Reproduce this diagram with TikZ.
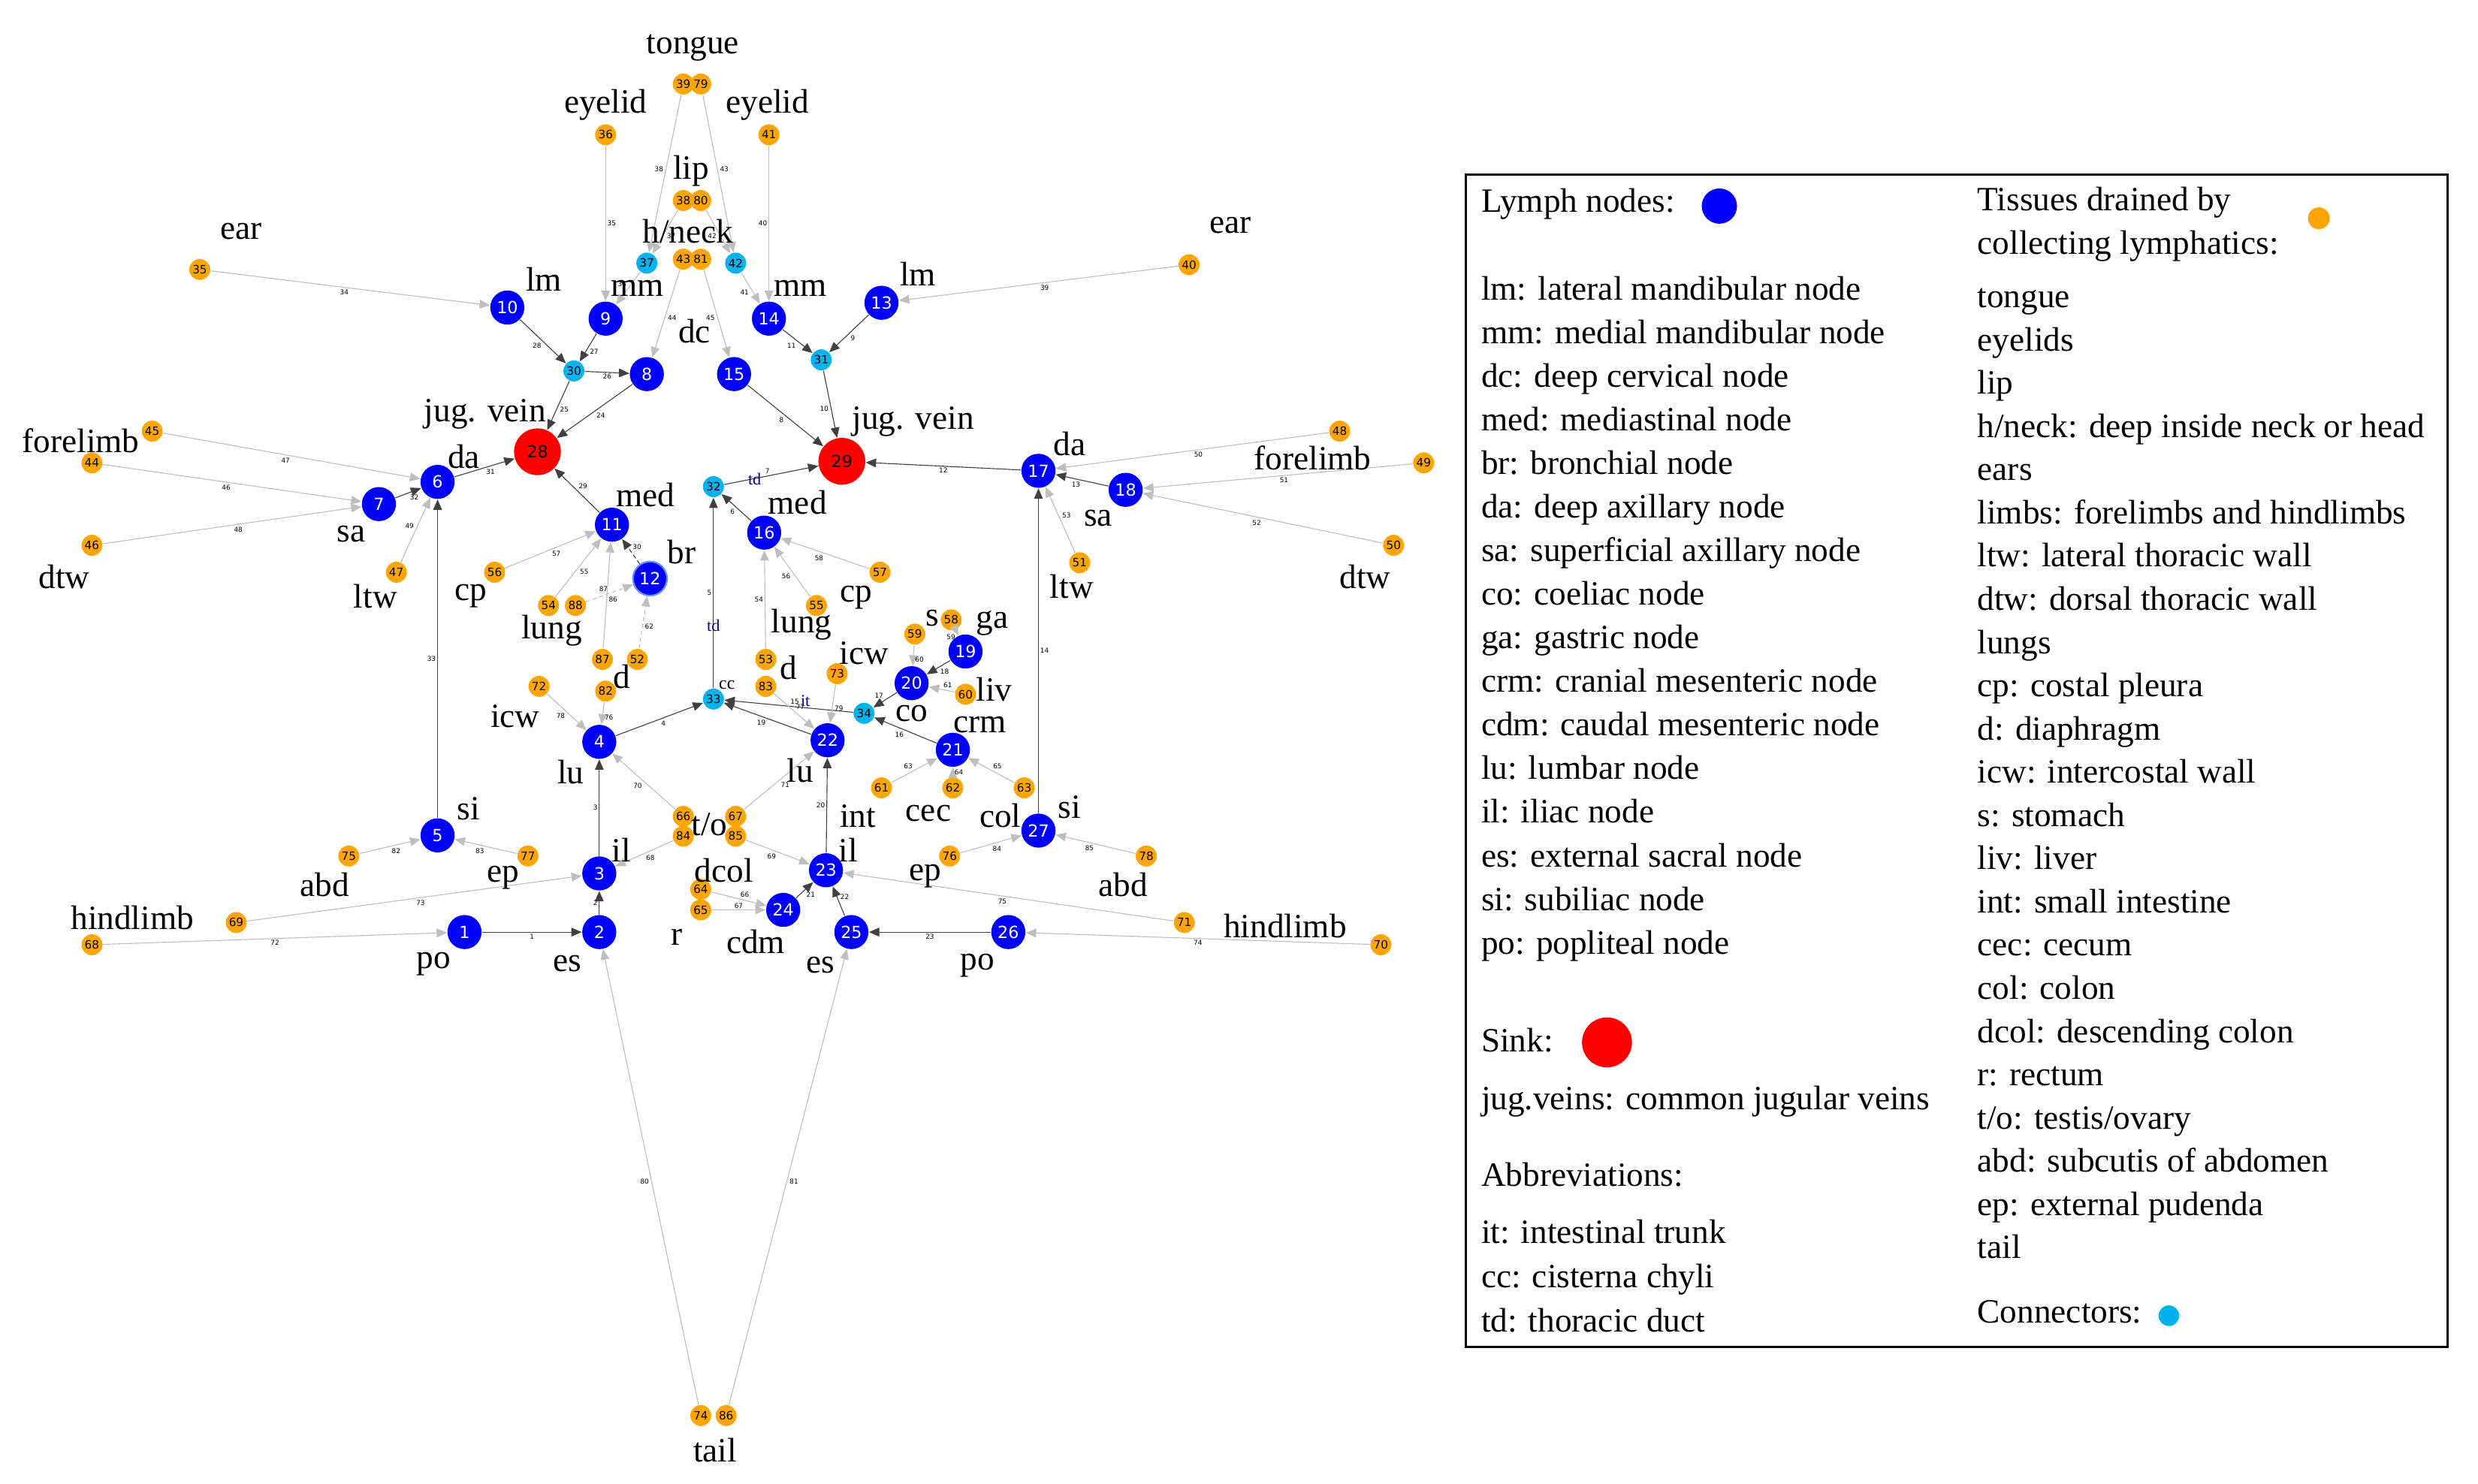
\documentclass[tikz,border=0pt]{standalone}
\usepackage{fontspec}
\setmainfont{Liberation Serif}
\newfontfamily\numfont{DejaVu Sans}
\usetikzlibrary{arrows.meta}

\definecolor{lymphblue}{RGB}{0,0,255}
\definecolor{sinkred}{RGB}{255,0,0}
\definecolor{tissueorange}{RGB}{255,165,0}
\definecolor{conncyan}{RGB}{0,178,238}
\definecolor{ringblue}{RGB}{100,149,237}
\definecolor{darkedge}{RGB}{64,64,64}
\definecolor{lightedge}{RGB}{190,190,190}
\definecolor{ductblue}{RGB}{0,0,139}

\tikzset{lymph/.style = {circle, fill=lymphblue, minimum size=4.3mm, inner sep=0pt,
                         text=white, font=\numfont\fontsize{6}{6}\selectfont},
         sink/.style = {circle, fill=sinkred, minimum size=5.9mm, inner sep=0pt,
                        font=\numfont\fontsize{6}{6}\selectfont},
         tissue/.style = {circle, fill=tissueorange, minimum size=2.65mm, inner sep=0pt,
                          font=\numfont\fontsize{4.1}{4.1}\selectfont},
         conn/.style = {tissue, fill=conncyan},
         organ/.style = {font=\fontsize{12.2}{15}\selectfont, inner sep=0pt, yshift=-0.4mm},
         legtext/.style = {organ, anchor=west, text height=0.68em, text depth=0.22em},
         dk/.style = {draw=darkedge, line width=0.3pt,
                      -{Triangle[length=1.3mm, width=1.1mm]}},
         lt/.style = {dk, draw=lightedge},
         elbl/.style = {font=\numfont\fontsize{2.4}{2.4}\selectfont, inner sep=0.5pt},
         lbL/.style = {elbl, auto=left},
         lbR/.style = {elbl, auto=right},
         duct/.style = {font=\fontsize{6}{6}\selectfont, inner sep=0pt, text=ductblue}
        }

\begin{document}
\begin{tikzpicture}[x=0.2mm, y=-0.2mm]
  \useasboundingbox (0,0) rectangle (1563,936);

  % lymph nodes
  \foreach \n/\x/\y in {1/293/588, 2/378/588, 3/378/551, 4/378/468, 5/276/527,
                        6/276/304, 7/239/318, 8/408/236, 9/382/201, 10/320/194,
                        11/386/331, 13/556/191, 14/485/201, 15/463/236,
                        16/482/336, 17/655/297, 18/710/309, 19/609/411, 20/575/431,
                        21/601/473, 22/522/467, 23/521/549, 24/494/574, 25/537/588,
                        26/636/588, 27/655/524}
    \node[lymph] (n\n) at (\x,\y) {\n};
  \node[lymph, draw=ringblue, line width=0.6pt] (n12) at (410,365) {12};

  % sinks and connectors
  \node[sink] (n28) at (339,285) {28};
  \node[sink] (n29) at (531,291) {29};
  \foreach \n/\x/\y in {30/362/234, 31/518/227, 32/450/307, 33/450/441,
                        34/545/450, 37/408/166, 42/464/166}
    \node[conn] (n\n) at (\x,\y) {\n};

  % tissues
  \foreach \n/\x/\y in {35/126/170, 36/382/85, 38/431/126.5, 80/442/126.5,
                        39/431/53, 79/442/53, 40/750/167, 41/485/85,
                        43/431/163.5, 81/442/163.5, 44/58/292, 45/96/272,
                        46/58/344, 47/250/361, 48/845/272, 49/898/292, 50/879/344,
                        51/681/355, 52/402/416, 53/483/416, 54/346/382, 55/515/382,
                        56/312/361, 57/555/361, 58/600/391, 59/577/400, 60/609/438,
                        61/556/497, 62/601/497, 63/646/497, 64/442/561, 65/442/574,
                        66/431/515, 84/431/527.5, 67/464/515, 85/464/527.5,
                        68/58/596, 69/149/582, 70/871/596, 71/747/582, 72/340/433,
                        73/528/425, 74/442/893, 86/458/893, 75/220/540, 76/599/540,
                        77/333/540, 78/723/540, 82/382/436, 83/483/433,
                        87/380/416, 88/363/382}
    \node[tissue] (n\n) at (\x,\y) {\n};

  % node to node
  \foreach \a/\b/\l/\s in {1/2/1/lbR, 2/3/2/lbL, 3/4/3/lbL, 4/33/4/lbR, 33/32/5/lbL,
                           16/32/6/lbL, 32/29/7/lbL, 15/29/8/lbR, 13/31/9/lbL,
                           31/29/10/lbR, 14/31/11/lbR, 17/29/12/lbL, 18/17/13/lbL,
                           27/17/14/lbR, 34/33/15/lbR, 21/34/16/lbL, 20/34/17/lbR,
                           19/20/18/lbL, 22/33/19/lbL, 23/22/20/lbL, 24/23/21/lbR,
                           25/23/22/lbR, 26/25/23/lbL, 8/28/24/lbL, 30/28/25/lbL,
                           30/8/26/lbR, 9/30/27/lbL, 10/30/28/lbR, 11/28/29/lbR,
                           6/28/31/lbR, 7/6/32/lbR, 5/6/33/lbL}
    \draw[dk] (n\a) -- node[\s] {\l} (n\b);
  \draw[dk, dash pattern=on 1.5pt off 1pt] (n12) -- node[lbR] {30} (n11);

  % tissue to node
  \foreach \a/\b/\l/\s in {35/10/34/lbR, 36/9/35/lbL, 37/9/36/lbR, 38/37/37/lbL,
                           39/37/38/lbR, 40/13/39/lbL, 41/14/40/lbR, 42/14/41/lbR,
                           80/42/42/lbR, 79/42/43/lbL, 43/8/44/lbL, 81/15/45/lbR,
                           44/7/46/lbR, 45/6/47/lbR, 46/7/48/lbR, 47/6/49/lbL,
                           48/17/50/lbL, 49/18/51/lbL, 50/18/52/lbL, 51/17/53/lbR,
                           53/16/54/lbL, 54/11/55/lbR, 55/16/56/lbL, 56/11/57/lbR,
                           57/16/58/lbL, 58/19/59/lbR, 59/20/60/lbL, 60/20/61/lbR,
                           61/21/63/lbL, 62/21/64/lbR, 63/21/65/lbR, 64/24/66/lbL,
                           65/24/67/lbL, 84/3/68/lbL, 85/23/69/lbR, 66/4/70/lbL,
                           67/22/71/lbR, 68/1/72/lbR, 69/3/73/lbR, 70/26/74/lbL,
                           71/23/75/lbL, 82/4/76/lbL, 83/22/77/lbL, 72/4/78/lbR,
                           73/22/79/lbL, 74/2/80/lbL, 86/25/81/lbR, 75/5/82/lbR,
                           77/5/83/lbL, 76/27/84/lbR, 78/27/85/lbL, 87/11/86/lbR}
    \draw[lt] (n\a) -- node[\s] {\l} (n\b);
  \draw[lt, dash pattern=on 1.5pt off 1pt] (n52) -- node[lbR] {62} (n12);
  \draw[lt, dash pattern=on 1.5pt off 1pt] (n88) -- node[lbL] {87} (n12);

  % duct names
  \node[duct] (tdtop) at (476,302) {td};
  \node[duct] (tdmid) at (450,394.5) {td};
  \node[duct] (itrunk) at (508,442) {it};
  \node[organ, font=\fontsize{6.4}{6.4}\selectfont, yshift=0.4mm] (cclbl) at (458.5,432) {cc};

  % organ and node names
  \foreach \t/\x/\y [count=\i] in {tongue/437/28, eyelid/382/64, eyelid/484/64,
                       lip/436/106, {h/neck}/434/144, ear/152/144, ear/776/140,
                       lm/343/174, lm/579/171, mm/402/180, mm/505/180, dc/438/207,
                       {jug. vein}/306/259, {jug. vein}/576/264, forelimb/51/276,
                       forelimb/828/287, da/292.5/286, da/674.6/278, sa/221.6/335,
                       sa/692.6/325, dtw/40.6/362, dtw/861/362, ltw/236.8/374,
                       ltw/676/368, cp/297/374, cp/540/375, med/407/310, med/503/315,
                       br/430/346, lung/348/396, lung/505.6/392, d/392/425,
                       d/497.6/419, icw/325/450, icw/545/410, s/588/388, ga/626/391,
                       liv/627/433, co/575/448, crm/618/455, lu/360/485,
                       lu/504.6/484, si/295.4/508, si/674.6/507, {t/o}/447.5/518,
                       int/541/513, il/392/534, il/535/534, cec/585.6/511,
                       col/631/512.6, abd/204.7/556, abd/708.4/556, ep/317.3/551.5,
                       ep/583.8/550.6, dcol/456.6/547, hindlimb/83.5/577,
                       hindlimb/810.6/582, r/427/589, cdm/476.6/592, po/273.4/606,
                       po/616.5/607, es/358/606, es/517.3/607, tail/451/913}
    \node[organ] (lab\i) at (\x,\y) {\t};

  % legend
  \draw[line width=0.8pt] (924.5,110) rectangle (1544,849.6);
  \node[legtext] (kblue) at (934,128) {Lymph nodes:};
  \node[lymph, minimum size=4.45mm] (kbluedot) at (1084.5,130) {};
  \foreach \t [count=\i from 0] in {lm: lateral mandibular node,
                       mm: medial mandibular node, dc: deep cervical node,
                       med: mediastinal node, br: bronchial node,
                       da: deep axillary node, sa: superficial axillary node,
                       co: coeliac node, ga: gastric node,
                       crm: cranial mesenteric node, cdm: caudal mesenteric node,
                       lu: lumbar node, il: iliac node, es: external sacral node,
                       si: subiliac node, po: popliteal node}
    \node[legtext] (kl\i) at (934,183.2+27.5*\i) {\t};
  \node[legtext] (ksink) at (934,657.6) {Sink:};
  \node[sink, minimum size=6.3mm] (ksinkdot) at (1013.6,657.6) {};
  \node[legtext] (kjug) at (934,694.1) {jug.veins: common jugular veins};
  \node[legtext] (kabbr) at (934,742.4) {Abbreviations:};
  \node[legtext] (kit) at (934,778.5) {it: intestinal trunk};
  \node[legtext] (kcc) at (934,806.1) {cc: cisterna chyli};
  \node[legtext] (ktd) at (934,834.3) {td: thoracic duct};

  \node[legtext] (ktis) at (1247,126.8) {Tissues drained by};
  \node[legtext] (ktis2) at (1247,154.2) {collecting lymphatics:};
  \node[tissue, minimum size=2.75mm] (ktisdot) at (1462.6,137.7) {};
  \foreach \t [count=\i from 0] in {tongue, eyelids, lip,
                       h/neck: deep inside neck or head, ears,
                       limbs: forelimbs and hindlimbs, ltw: lateral thoracic wall,
                       dtw: dorsal thoracic wall, lungs, cp: costal pleura,
                       d: diaphragm, icw: intercostal wall, s: stomach, liv: liver,
                       int: small intestine, cec: cecum, col: colon,
                       dcol: descending colon, r: rectum, t/o: testis/ovary,
                       abd: subcutis of abdomen, ep: external pudenda, tail}
    \node[legtext] (kr\i) at (1247,188+27.27*\i) {\t};
  \node[legtext] (kconn) at (1247,828.4) {Connectors:};
  \node[conn, minimum size=2.6mm] (kconndot) at (1368,830) {};
\end{tikzpicture}
\end{document}
